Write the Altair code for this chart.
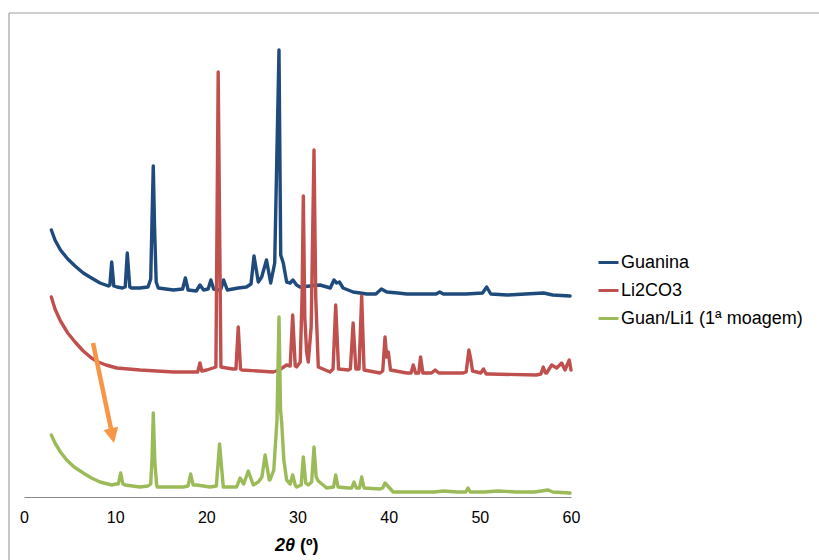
import altair as alt
import pandas as pd

# ---- data (2-theta in degrees, intensity in arbitrary offset units) ----
series_names = ["Guanina", "Li2CO3", "Guan/Li1 (1ª moagem)"]
series_colors = ["#1F4A7C", "#C0504D", "#9BBB59"]

guanina_x = [3.0, 3.4, 4.0, 4.8, 5.6, 6.5, 7.4, 8.34, 9.25, 9.42, 9.62, 9.85, 10.2, 10.8, 11.1, 11.33, 11.6, 11.8,
             12.7, 13.6, 13.9, 14.05, 14.18, 14.32, 14.5, 14.73, 16.4, 17.4, 17.7, 18.0, 18.9, 19.3, 19.7,
             20.2, 20.5, 20.8, 21.3, 21.6, 21.9, 22.3, 23.5, 24.4, 24.9, 25.23, 25.7, 26.07, 26.6, 27.06,
             27.5, 27.97, 28.16, 28.44, 28.81, 29.2, 29.5, 29.9, 30.27, 32.47, 33.6, 34.0, 34.3, 34.6,
             35.0, 36.1, 37.6, 38.6, 39.2, 39.8, 41.0, 42.0, 44.0, 45.2, 45.6, 46.0, 46.5, 48.5, 50.3,
             50.75, 51.2, 53.0, 55.0, 57.0, 58.0, 59.9]
guanina_y = [267, 257, 247, 238, 231, 224, 219, 214, 211, 212, 235, 211, 210, 209, 210, 244, 210, 209,
             209, 210, 218, 280, 331, 270, 215, 209, 207, 208, 219, 207, 206, 212, 207,
             208, 217, 208, 207, 208, 217, 207, 209, 210, 213, 241, 215, 220, 237, 214,
             234, 447, 242, 234, 215, 214, 217, 212, 210, 212, 209, 217, 214, 215,
             209, 205, 203, 203, 208, 205, 204, 203, 203, 203, 205, 203, 203, 203, 204,
             210, 203, 202, 203, 204, 202, 201]

li2co3_x = [3.0, 3.4, 4.0, 4.8, 5.6, 6.5, 7.4, 8.15, 9.0, 10.17, 12.72, 16.38, 18.2, 19.05, 19.3, 19.5, 20.04, 20.73,
            21.05, 21.3, 21.6, 22.23, 22.9, 23.25, 23.5, 23.75, 23.88, 27.34, 28.0, 28.81, 29.2, 29.47,
            29.75, 29.9, 30.3, 30.5, 30.64, 30.8, 31.0, 31.18, 31.5, 31.81, 32.0, 32.28, 33.56, 33.9,
            34.19, 34.5, 35.57, 35.8, 36.1, 36.4, 36.75, 37.04, 37.3, 39.05, 39.35, 39.6, 39.78, 39.96,
            40.2, 41.98, 42.45, 42.7, 42.95, 43.3, 43.5, 43.75, 44.7, 45.1, 45.5, 46.73, 48.18, 48.5,
            48.8, 49.0, 49.2, 50.1, 50.4, 50.7, 51.1, 56.2, 56.7, 56.96, 57.2, 57.33, 57.88, 58.43,
            58.98, 59.34, 59.81, 60.0]
li2co3_y = [200, 188, 176, 164, 155, 146, 139, 135, 132, 129, 127, 125, 125, 125, 134, 126, 127, 129,
            130, 425, 130, 129, 128, 128, 170, 128, 127, 125, 127, 132, 131, 182,
            131, 130, 135, 200, 301, 180, 145, 135, 170, 347, 200, 130, 125, 128,
            192, 128, 127, 128, 174, 128, 128, 201, 127, 124, 126, 160, 140, 145,
            127, 124, 124, 132, 124, 124, 140, 124, 124, 127, 124, 124, 124, 125,
            147, 138, 126, 124, 128, 123, 123, 122, 123, 130, 124, 124, 132, 129,
            134, 127, 137, 127]

guanli_x = [3.0, 3.4, 4.0, 4.68, 5.5, 6.5, 7.4, 8.34, 9.62, 10.1, 10.35, 10.6, 10.85, 11.08, 12.72, 13.6, 13.9, 14.05,
            14.18, 14.35, 14.55, 14.62, 17.47, 18.0, 18.28, 18.55, 18.94, 20.4, 21.1, 21.45, 21.86,
            23.33, 23.7, 24.1, 24.6, 25.15, 25.7, 26.1, 26.45, 26.9, 26.98, 27.4, 27.75, 27.97, 28.14,
            28.27, 28.5, 28.81, 29.2, 29.47, 29.75, 29.9, 30.4, 30.64, 30.9, 31.18, 31.55, 31.81, 32.05,
            32.28, 33.2, 33.95, 34.19, 34.45, 35.57, 35.95, 36.2, 36.45, 36.8, 37.04, 37.3, 39.05,
            39.35, 39.6, 39.9, 40.3, 40.5, 43.07, 45.0, 46.0, 47.5, 48.45, 48.7, 48.95, 50.5, 52.0,
            54.0, 56.0, 57.5, 58.0, 59.9]
guanli_y = [62, 54, 45, 37, 30, 24, 19, 15, 12, 13, 13, 24, 13, 12, 10, 11, 13, 40,
            84, 35, 12, 10, 10, 11, 23, 12, 12, 10, 11, 53, 10,
            10, 19, 13, 26, 12, 15, 20, 42, 17, 17, 27, 77, 180, 87,
            74, 37, 17, 13, 22, 12, 10, 12, 40, 14, 12, 15, 50, 20,
            16, 9, 10, 22, 10, 9, 9, 15, 9, 9, 20, 9, 8,
            9, 14, 11, 7, 5, 5, 5, 6, 5, 5, 9, 5, 5, 6,
            5, 5, 7, 5, 4]

# annotation arrow (start -> tip), in data units
arrow_x = [7.57, 9.87]
arrow_y = [154, 54]

# axis title parts
title_main = "2θ"
title_unit = "(º)"

# ---- tables ----
rows = []
for name, xs, ys in zip(series_names, [guanina_x, li2co3_x, guanli_x], [guanina_y, li2co3_y, guanli_y]):
    for xv, yv in zip(xs, ys):
        rows.append({"series": name, "x": xv, "y": yv})
df = pd.DataFrame(rows)

frac = 0.86
arrow_df = pd.DataFrame({
    "x": [arrow_x[0]], "y": [arrow_y[0]],
    "x2": [arrow_x[0] + (arrow_x[1] - arrow_x[0]) * frac],
    "y2": [arrow_y[0] + (arrow_y[1] - arrow_y[0]) * frac],
})
tip_df = pd.DataFrame({"x": [arrow_x[1]], "y": [arrow_y[1]]})

FONT = "Liberation Sans"

x_axis = alt.Axis(title=None, values=[0, 10, 20, 30, 40, 50, 60], format="d",
                  grid=False, ticks=False, domainColor="#888888", domainWidth=1,
                  labelFont=FONT, labelFontSize=16, labelColor="#000000", labelPadding=12,
                  labelFlush=False)
x_enc = alt.X("x:Q", scale=alt.Scale(domain=[0, 60], nice=False), axis=x_axis)
y_enc = alt.Y("y:Q", scale=alt.Scale(domain=[0, 460], nice=False), axis=None)
color_enc = alt.Color("series:N", scale=alt.Scale(domain=series_names, range=series_colors),
                      legend=alt.Legend(title=None, orient="none", legendX=573, legendY=214,
                                        symbolType="stroke", symbolSize=400, symbolStrokeWidth=3,
                                        labelFontSize=18, labelFont=FONT, labelColor="#000000",
                                        rowPadding=7, labelOffset=1, padding=0, labelLimit=300))

def series_layer(name):
    return alt.Chart(df).transform_filter(alt.datum.series == name).mark_line(
        strokeWidth=3.4, strokeJoin="round", strokeCap="round"
    ).encode(x=x_enc, y=y_enc, color=color_enc)

layers = [series_layer(n) for n in series_names]

shaft = alt.Chart(arrow_df).mark_rule(color="#F79646", strokeWidth=4.5).encode(
    x=x_enc, y=y_enc, x2="x2:Q", y2="y2:Q")
head = alt.Chart(tip_df).mark_point(
    shape="M0,0 L-1,-2 L1,-2 Z", filled=True, color="#F79646", opacity=1, size=225, angle=348, strokeWidth=0
).encode(x=x_enc, y=y_enc)

dummy = pd.DataFrame({"a": [0]})
frame_top = alt.Chart(dummy).mark_rule(color="#A0A0A0", strokeWidth=1.2).encode(
    x=alt.value(-15), x2=alt.value(820), y=alt.value(-24))
frame_left = alt.Chart(dummy).mark_rule(color="#A0A0A0", strokeWidth=1.2).encode(
    x=alt.value(-15), y=alt.value(-24), y2=alt.value(560))

title_a = alt.Chart(dummy).mark_text(
    text=title_main, font=FONT, fontSize=18, fontWeight="bold", fontStyle="italic",
    align="right", baseline="middle", color="#000000"
).encode(x=alt.value(271), y=alt.value(509))
title_b = alt.Chart(dummy).mark_text(
    text=title_unit, font=FONT, fontSize=18, fontWeight="bold",
    align="left", baseline="middle", color="#000000"
).encode(x=alt.value(276), y=alt.value(509))

chart = alt.layer(frame_top, frame_left, *layers, shaft, head, title_a, title_b).properties(
    width=547, height=460,
    padding={"left": 24, "top": 37, "right": 248, "bottom": 63},
    autosize=alt.AutoSizeParams(type="none"),
    background="white",
).configure_view(stroke=None)

chart.save("out.html", embed_options={"renderer": "svg", "actions": False})
